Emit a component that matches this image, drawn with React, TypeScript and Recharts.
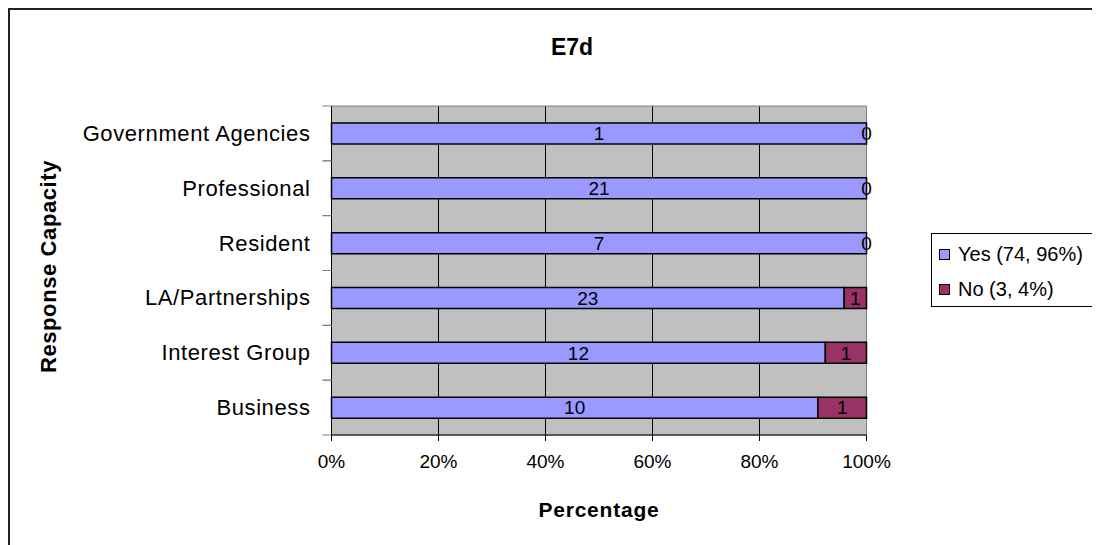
import React from 'react';
import {
  BarChart,
  Bar,
  XAxis,
  YAxis,
  CartesianGrid,
  ReferenceArea,
  LabelList,
  Legend,
} from 'recharts';

// Response capacity groups, listed top to bottom
const categories = [
  'Government Agencies',
  'Professional',
  'Resident',
  'LA/Partnerships',
  'Interest Group',
  'Business',
];
const yesCounts = [1, 21, 7, 23, 12, 10];
const noCounts = [0, 0, 0, 1, 1, 1];
const percentTicks = [0, 0.2, 0.4, 0.6, 0.8, 1];
const innerGridValues = [0.2, 0.4, 0.6, 0.8];

const YES_COLOR = '#9999FF';
const NO_COLOR = '#993366';

const CHART_W = 1090;
const CHART_H = 535;
const MARGIN = { top: 96, right: 233.5, bottom: 30, left: 21.5 };
const X_AXIS_H = 80;
const PLOT_H = CHART_H - MARGIN.top - MARGIN.bottom - X_AXIS_H;

const data = categories.map((name, i) => ({
  name,
  yes: yesCounts[i],
  no: noCounts[i],
}));

const totalYes = yesCounts.reduce((a, b) => a + b, 0);
const totalNo = noCounts.reduce((a, b) => a + b, 0);
const totalAll = totalYes + totalNo;
const legendItems = [
  { label: `Yes (${totalYes}, ${Math.round((totalYes / totalAll) * 100)}%)`, color: YES_COLOR },
  { label: `No (${totalNo}, ${Math.round((totalNo / totalAll) * 100)}%)`, color: NO_COLOR },
];

const pct = (v: number) => `${Math.round(v * 100)}%`;

// Category label at the band centre, tick marks on the band boundaries
function CategoryTick(props: any) {
  const { x, y, payload } = props;
  const half = PLOT_H / categories.length / 2;
  return (
    <g>
      <line x1={x - 9} x2={x} y1={y - half} y2={y - half} stroke="#808080" />
      <line x1={x - 9} x2={x} y1={y + half} y2={y + half} stroke="#808080" />
      <text
        x={x - 21}
        y={y}
        textAnchor="end"
        dominantBaseline="central"
        fontSize={22}
        letterSpacing={0.6}
        fill="#000"
      >
        {payload.value}
      </text>
    </g>
  );
}

function YTitle(props: any) {
  const { viewBox } = props;
  const cx = viewBox.x + 17;
  const cy = viewBox.y + viewBox.height / 2 - 4;
  return (
    <text
      x={cx}
      y={cy}
      transform={`rotate(-90 ${cx} ${cy})`}
      textAnchor="middle"
      dominantBaseline="central"
      fontSize={22}
      fontWeight="bold"
      letterSpacing={0.6}
      fill="#000"
    >
      Response Capacity
    </text>
  );
}

function XTitle(props: any) {
  const { viewBox } = props;
  return (
    <text
      x={viewBox.x + viewBox.width / 2}
      y={viewBox.y + 74}
      textAnchor="middle"
      dominantBaseline="central"
      fontSize={21}
      fontWeight="bold"
      letterSpacing={0.8}
      fill="#000"
    >
      Percentage
    </text>
  );
}

// A "No" count of zero has no segment, so its label sits at the end of the "Yes" segment
function ZeroNoLabel(props: any) {
  const { x, y, width, height, value } = props;
  if (value !== 0) return null;
  return (
    <text
      x={x + width}
      y={y + height / 2}
      textAnchor="middle"
      dominantBaseline="central"
      fontSize={19}
      fill="#000"
    >
      {value}
    </text>
  );
}

function LegendBox() {
  return (
    <div
      style={{
        boxSizing: 'border-box',
        width: 168,
        height: 74,
        border: '1px solid #000',
        borderRight: 'none',
        background: '#fff',
        paddingTop: 8,
        paddingLeft: 7,
      }}
    >
      {legendItems.map((item, i) => (
        <div
          key={item.label}
          style={{
            display: 'flex',
            alignItems: 'center',
            height: 24,
            marginTop: i === 0 ? 0 : 11,
            fontSize: 20,
            whiteSpace: 'nowrap',
            color: '#000',
          }}
        >
          <span
            style={{
              display: 'inline-block',
              boxSizing: 'border-box',
              width: 11,
              height: 11,
              background: item.color,
              border: '1px solid #000',
              marginRight: 8,
            }}
          />
          {item.label}
        </div>
      ))}
    </div>
  );
}

export default function App() {
  return (
    <div
      style={{
        position: 'relative',
        boxSizing: 'border-box',
        width: 1092,
        height: 537,
        borderTop: '2px solid #222',
        borderLeft: '2px solid #222',
        fontFamily: '"Liberation Sans", Arial, sans-serif',
        background: '#fff',
      }}
    >
      <div
        style={{
          position: 'absolute',
          left: 462,
          top: 24,
          width: 200,
          textAlign: 'center',
          fontSize: 23,
          lineHeight: '26px',
          fontWeight: 'bold',
          color: '#000',
        }}
      >
        E7d
      </div>
      <BarChart
        width={CHART_W}
        height={CHART_H}
        data={data}
        layout="vertical"
        stackOffset="expand"
        margin={MARGIN}
        barSize={21}
      >
        <CartesianGrid
          horizontal={false}
          vertical
          verticalValues={innerGridValues}
          stroke="#000"
          fill="#C0C0C0"
          fillOpacity={1}
        />
        <ReferenceArea x1={0} x2={1} fill="none" stroke="#808080" strokeWidth={1} ifOverflow="visible" />
        <XAxis
          type="number"
          domain={[0, 1]}
          ticks={percentTicks}
          tickFormatter={pct}
          height={X_AXIS_H}
          axisLine={{ stroke: '#000' }}
          tickLine={{ stroke: '#000' }}
          tickSize={6}
          tickMargin={14}
          tick={{ fontSize: 19, fill: '#000' }}
          interval={0}
          label={<XTitle />}
        />
        <YAxis
          type="category"
          dataKey="name"
          width={300}
          axisLine={{ stroke: '#000' }}
          tickLine={false}
          tickSize={0}
          tickMargin={0}
          tick={<CategoryTick />}
          interval={0}
          label={<YTitle />}
        />
        <Legend
          layout="horizontal"
          verticalAlign="middle"
          align="center"
          content={<LegendBox />}
          wrapperStyle={{ position: 'absolute', left: 921, top: 223, width: 168, height: 74 }}
        />
        <Bar dataKey="yes" stackId="a" fill={YES_COLOR} stroke="#000" strokeWidth={1.5} isAnimationActive={false}>
          <LabelList dataKey="yes" position="center" fill="#000" fontSize={19} />
          <LabelList dataKey="no" content={<ZeroNoLabel />} />
        </Bar>
        <Bar dataKey="no" stackId="a" fill={NO_COLOR} stroke="#000" strokeWidth={1.5} isAnimationActive={false}>
          <LabelList dataKey="no" position="center" fill="#000" fontSize={19} />
        </Bar>
      </BarChart>
    </div>
  );
}
